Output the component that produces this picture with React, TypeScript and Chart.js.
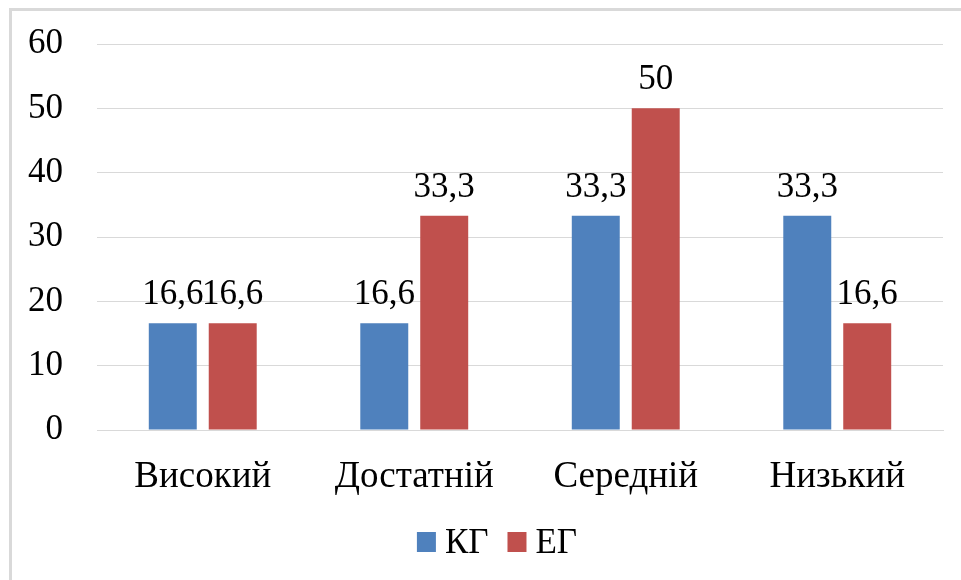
import React, { useEffect, useRef } from "react";
import { Chart, registerables } from "chart.js";

Chart.register(...registerables);

const categories = ["Високий", "Достатній", "Середній", "Низький"];
const kgValues = [16.6, 16.6, 33.3, 33.3];
const egValues = [16.6, 33.3, 50, 16.6];
const seriesNames = ["КГ", "ЕГ"];
const seriesColors = ["#4F81BD", "#C0504D"];
const yTicks = [0, 10, 20, 30, 40, 50, 60];

const FONT = "'Liberation Serif', 'Times New Roman', serif";

const dataLabelPlugin = {
  id: "dataLabels",
  afterDatasetsDraw(chart: any) {
    const ctx = chart.ctx;
    ctx.save();
    ctx.font = `35px ${FONT}`;
    ctx.fillStyle = "#000";
    ctx.textAlign = "center";
    ctx.textBaseline = "alphabetic";
    chart.data.datasets.forEach((ds: any, i: number) => {
      const meta = chart.getDatasetMeta(i);
      meta.data.forEach((el: any, j: number) => {
        const v = ds.data[j];
        const label = String(v).replace(".", ",");
        ctx.fillText(label, el.x, el.y - 19);
      });
    });
    ctx.restore();
  },
};

const legendPlugin = {
  id: "customLegend",
  afterDraw(chart: any) {
    const ctx = chart.ctx;
    ctx.save();
    ctx.font = `35px ${FONT}`;
    ctx.textBaseline = "alphabetic";
    ctx.textAlign = "left";
    const box = 20;
    const gapText = 8;
    const gapItem = 19;
    const items = chart.data.datasets.map((ds: any) => ({
      text: ds.label,
      color: ds.backgroundColor,
      w: ctx.measureText(ds.label).width,
    }));
    let total = 0;
    items.forEach((it: any, i: number) => {
      total += box + gapText + it.w + (i < items.length - 1 ? gapItem : 0);
    });
    let x = 497 - total / 2;
    const boxTop = 532;
    items.forEach((it: any) => {
      ctx.fillStyle = it.color;
      ctx.fillRect(x, boxTop, box - 1, box);
      ctx.fillStyle = "#000";
      ctx.fillText(it.text, x + box + gapText, 553);
      x += box + gapText + it.w + gapItem;
    });
    ctx.restore();
  },
};

export default function App() {
  const canvasRef = useRef<HTMLCanvasElement | null>(null);

  useEffect(() => {
    if (!canvasRef.current) return;
    const chart = new Chart(canvasRef.current, {
      type: "bar",
      data: {
        labels: categories,
        datasets: [
          {
            label: seriesNames[0],
            data: kgValues,
            backgroundColor: seriesColors[0],
            categoryPercentage: 0.567,
            barPercentage: 0.8,
          },
          {
            label: seriesNames[1],
            data: egValues,
            backgroundColor: seriesColors[1],
            categoryPercentage: 0.567,
            barPercentage: 0.8,
          },
        ],
      },
      options: {
        responsive: false,
        animation: false,
        layout: {
          autoPadding: false,
          padding: { left: 20, right: 18, top: 44, bottom: 70 },
        },
        plugins: {
          legend: { display: false },
          tooltip: { enabled: false },
        },
        scales: {
          x: {
            grid: { display: false, drawTicks: false },
            border: { display: true, color: "#D9D9D9", width: 1 },
            ticks: {
              color: "#000",
              font: { family: FONT, size: 37 },
              padding: 25,
              maxRotation: 0,
              autoSkip: false,
            },
            afterFit: (scale: any) => {
              scale.height = 80;
              scale.paddingLeft = 0;
              scale.paddingRight = 0;
              scale.paddingTop = 0;
              scale.paddingBottom = 0;
            },
          },
          y: {
            min: yTicks[0],
            max: yTicks[yTicks.length - 1],
            afterBuildTicks: (scale: any) => {
              scale.ticks = yTicks.map((v) => ({ value: v }));
            },
            grid: { color: "#D9D9D9", lineWidth: 1, drawTicks: false },
            border: { display: false },
            ticks: {
              color: "#000",
              font: { family: FONT, size: 35 },
              padding: 34,
            },
            afterFit: (scale: any) => {
              scale.width = 77;
              scale.paddingLeft = 0;
              scale.paddingRight = 0;
              scale.paddingTop = 0;
              scale.paddingBottom = 0;
            },
          },
        },
      },
      plugins: [dataLabelPlugin, legendPlugin],
    });
    return () => chart.destroy();
  }, []);

  return (
    <div
      style={{
        position: "fixed",
        left: 0,
        top: 0,
        width: 961,
        height: 580,
        background: "#fff",
        overflow: "hidden",
      }}
    >
      <div
        style={{
          position: "absolute",
          left: 9,
          top: 8,
          width: 1000,
          height: 1000,
          borderLeft: "3px solid #D9D9D9",
          borderTop: "3px solid #D9D9D9",
        }}
      />
      <canvas
        ref={canvasRef}
        width={961}
        height={580}
        style={{ position: "absolute", left: 0, top: 0, width: 961, height: 580 }}
      />
    </div>
  );
}
